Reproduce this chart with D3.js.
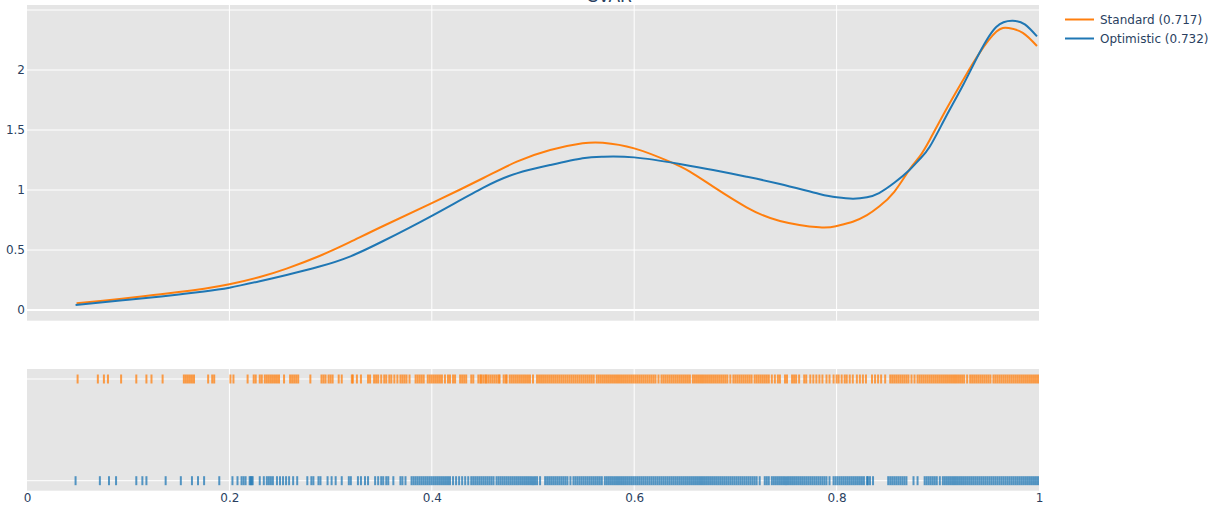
<!DOCTYPE html>
<html>
<head>
<meta charset="utf-8">
<script src="https://cdn.jsdelivr.net/npm/d3@7"></script>
<style>
  html, body { margin: 0; padding: 0; background: #fff; }
  svg { display: block; font-family: "DejaVu Sans", Verdana, sans-serif; }
</style>
</head>
<body>
<div id="chart"></div>
<script>
// ---------- DATA ----------
const titleText = "CVAR";
const seriesNames = ["Standard (0.717)", "Optimistic (0.732)"];
const seriesColors = ["#ff7f0e", "#1f77b4"];

// KDE curve - Standard
const stdX = [0.049, 0.075, 0.1, 0.125, 0.15, 0.175, 0.2, 0.23, 0.2565, 0.289, 0.319, 0.352, 0.4, 0.451, 0.484, 0.517, 0.549, 0.569, 0.6, 0.635, 0.655, 0.678, 0.711, 0.744, 0.783, 0.8, 0.816, 0.83, 0.842, 0.857, 0.872, 0.882, 0.892, 0.908, 0.925, 0.941, 0.958, 0.97, 0.984, 0.998];
const stdY = [0.056, 0.078, 0.10, 0.125, 0.15, 0.178, 0.214, 0.275, 0.345, 0.450, 0.565, 0.700, 0.890, 1.100, 1.236, 1.333, 1.389, 1.394, 1.347, 1.236, 1.153, 1.028, 0.856, 0.742, 0.689, 0.700, 0.736, 0.790, 0.862, 0.985, 1.17, 1.278, 1.417, 1.667, 1.917, 2.139, 2.32, 2.35, 2.31, 2.2];

// KDE curve - Optimistic
const optX = [0.048, 0.075, 0.1, 0.125, 0.15, 0.175, 0.2, 0.23, 0.2565, 0.289, 0.319, 0.352, 0.4, 0.451, 0.484, 0.517, 0.549, 0.569, 0.6, 0.645, 0.678, 0.711, 0.744, 0.783, 0.8, 0.816, 0.83, 0.842, 0.857, 0.872, 0.882, 0.892, 0.908, 0.925, 0.941, 0.958, 0.974, 0.986, 0.998];
const optY = [0.042, 0.065, 0.085, 0.106, 0.13, 0.155, 0.186, 0.240, 0.292, 0.362, 0.445, 0.575, 0.785, 1.020, 1.139, 1.208, 1.264, 1.278, 1.272, 1.217, 1.167, 1.111, 1.05, 0.967, 0.939, 0.928, 0.940, 0.975, 1.06, 1.167, 1.256, 1.36, 1.61, 1.875, 2.139, 2.36, 2.41, 2.38, 2.28];

// Rug values - Standard
const stdRug = [0.050, 0.070, 0.076, 0.080, 0.093, 0.108, 0.118, 0.123, 0.134, 0.155, 0.157, 0.159, 0.161, 0.163, 0.165, 0.179, 0.183, 0.185, 0.201, 0.204, 0.218, 0.224, 0.226, 0.230, 0.232, 0.235, 0.237, 0.239, 0.241, 0.243, 0.245, 0.247, 0.249, 0.254, 0.260, 0.262, 0.264, 0.266, 0.268,
0.280, 0.291, 0.293, 0.295, 0.298, 0.300, 0.302, 0.308, 0.311, 0.321, 0.322, 0.326, 0.330, 0.337, 0.339, 0.343, 0.345, 0.347, 0.350, 0.353, 0.355, 0.358, 0.360, 0.363, 0.366, 0.369, 0.371, 0.373, 0.375, 0.378, 0.384, 0.386, 0.388, 0.390, 0.392, 0.396, 0.398, 0.400, 0.402, 0.404, 0.406, 0.408, 0.410, 0.413, 0.416, 0.418, 0.421, 0.423, 0.428, 0.430, 0.432, 0.434, 0.439, 0.441, 0.446, 0.448, 0.449, 0.451, 0.453, 0.454, 0.456, 0.458, 0.460, 0.462, 0.464, 0.466, 0.467, 0.471, 0.473, 0.474, 0.477, 0.479, 0.481, 0.483, 0.485, 0.487, 0.489, 0.491, 0.493, 0.495, 0.497, 0.500,
0.504, 0.506, 0.508, 0.510, 0.512, 0.514, 0.516, 0.518, 0.520, 0.522, 0.524, 0.526, 0.528, 0.530, 0.532, 0.534, 0.536, 0.538, 0.540, 0.542, 0.544, 0.546, 0.548, 0.550, 0.552, 0.554, 0.556, 0.558, 0.560,
0.563, 0.565, 0.567, 0.569, 0.571, 0.573, 0.575, 0.577, 0.579, 0.581, 0.583, 0.585, 0.587, 0.589, 0.591, 0.593, 0.595, 0.597, 0.599, 0.601, 0.603, 0.605, 0.607, 0.609, 0.611, 0.613, 0.615, 0.617, 0.619, 0.621, 0.624,
0.627, 0.629, 0.631, 0.633, 0.635, 0.637, 0.639, 0.641, 0.643, 0.645, 0.647, 0.649, 0.651, 0.653, 0.655,
0.658, 0.660, 0.662, 0.664, 0.666, 0.668, 0.670, 0.672, 0.674, 0.676, 0.678, 0.680, 0.682, 0.684, 0.686, 0.688, 0.690, 0.692, 0.695,
0.698, 0.700, 0.702, 0.704, 0.706, 0.708, 0.710, 0.712, 0.714, 0.716, 0.719, 0.721, 0.723, 0.725, 0.727, 0.729, 0.731, 0.733,
0.736, 0.739, 0.742, 0.744, 0.749, 0.751, 0.756, 0.758, 0.760, 0.763, 0.768, 0.770, 0.774, 0.777, 0.780, 0.783, 0.786, 0.790, 0.793, 0.797, 0.800, 0.802, 0.805, 0.808, 0.810, 0.813, 0.816, 0.820, 0.823, 0.826, 0.829, 0.835, 0.838, 0.841, 0.844, 0.848,
0.853, 0.855, 0.857, 0.859, 0.861, 0.863, 0.865, 0.867, 0.869, 0.871, 0.874, 0.877, 0.880, 0.882,
0.884, 0.886, 0.888, 0.890, 0.892, 0.894, 0.896, 0.898, 0.900, 0.902, 0.904, 0.906, 0.908, 0.910, 0.912, 0.914, 0.916, 0.918, 0.920, 0.922, 0.924, 0.926, 0.929,
0.932, 0.934, 0.936, 0.938, 0.940, 0.942, 0.944, 0.946, 0.948, 0.950, 0.952,
0.955, 0.957, 0.959, 0.961, 0.963, 0.965, 0.967, 0.969, 0.971, 0.973, 0.975, 0.977, 0.979, 0.981, 0.983, 0.985, 0.987, 0.989, 0.991, 0.993, 0.995, 0.997, 0.999];

// Rug values - Optimistic
const optRug = [0.048, 0.072, 0.081, 0.088, 0.108, 0.114, 0.118, 0.137, 0.152, 0.163, 0.169, 0.175, 0.190, 0.203, 0.208, 0.212, 0.214, 0.216, 0.220, 0.221, 0.222, 0.223, 0.230, 0.234, 0.237, 0.239, 0.241, 0.243, 0.247, 0.250, 0.253, 0.256, 0.259, 0.263, 0.267,
0.277, 0.281, 0.283, 0.288, 0.290, 0.297, 0.301, 0.305, 0.311, 0.318, 0.320, 0.327, 0.330, 0.334, 0.337, 0.344, 0.347, 0.350, 0.352, 0.355, 0.357, 0.362, 0.369, 0.371, 0.374,
0.380, 0.382, 0.384, 0.386, 0.388, 0.390, 0.392, 0.394, 0.396, 0.398, 0.400, 0.402, 0.404, 0.406, 0.408, 0.410, 0.412, 0.414, 0.416, 0.418,
0.421, 0.424, 0.427, 0.430, 0.433, 0.436, 0.439, 0.441,
0.443, 0.445, 0.447, 0.449, 0.451, 0.453, 0.455, 0.457, 0.459, 0.461, 0.464,
0.466, 0.468, 0.470, 0.472, 0.474, 0.476, 0.478, 0.480, 0.482, 0.484, 0.486, 0.488, 0.490, 0.492, 0.494, 0.496, 0.498, 0.500, 0.502, 0.504, 0.507,
0.512, 0.514, 0.516, 0.518, 0.520, 0.522, 0.524, 0.526, 0.528, 0.530, 0.532, 0.534, 0.537,
0.540, 0.542, 0.544, 0.546, 0.548, 0.550, 0.552, 0.554, 0.556, 0.558, 0.560, 0.562, 0.564, 0.566, 0.568,
0.571, 0.573, 0.575, 0.577, 0.579, 0.581, 0.583, 0.585, 0.587, 0.589, 0.591, 0.593, 0.595, 0.597, 0.599, 0.601, 0.603, 0.605, 0.607, 0.609, 0.611, 0.613, 0.615, 0.617, 0.619, 0.621, 0.623, 0.625, 0.627, 0.629, 0.631, 0.633, 0.635, 0.637, 0.639, 0.641, 0.643, 0.645, 0.647, 0.649, 0.651, 0.653, 0.655, 0.657, 0.659, 0.661, 0.663, 0.665,
0.667, 0.669, 0.671, 0.673, 0.675, 0.677, 0.679, 0.681, 0.683, 0.685, 0.687, 0.689, 0.691, 0.693, 0.695, 0.697, 0.699, 0.701, 0.703, 0.705, 0.707, 0.709, 0.711, 0.713, 0.715, 0.717, 0.719, 0.721, 0.724,
0.729, 0.731, 0.733, 0.736, 0.738, 0.740, 0.742, 0.744, 0.746, 0.748, 0.750, 0.752, 0.754, 0.756, 0.758, 0.760, 0.762, 0.764, 0.766, 0.768, 0.770, 0.772, 0.774, 0.776, 0.778, 0.780, 0.782, 0.784, 0.786, 0.788, 0.790, 0.793,
0.797, 0.799, 0.801, 0.803, 0.805, 0.807, 0.809, 0.811, 0.813, 0.815, 0.817, 0.819, 0.821, 0.823, 0.825, 0.827, 0.830, 0.831, 0.833, 0.836,
0.851, 0.853, 0.855, 0.857, 0.859, 0.861, 0.863, 0.865, 0.867, 0.869, 0.876, 0.880,
0.887, 0.889, 0.891, 0.893, 0.895, 0.897, 0.899, 0.902,
0.905, 0.907, 0.909, 0.911, 0.913, 0.915, 0.917, 0.919, 0.921, 0.923, 0.925, 0.927, 0.929, 0.931, 0.933, 0.935, 0.937, 0.939, 0.941, 0.943, 0.945, 0.947, 0.949, 0.951, 0.953, 0.955, 0.957, 0.959, 0.961, 0.963, 0.965, 0.967, 0.969, 0.971, 0.973, 0.975, 0.977, 0.979, 0.981, 0.983, 0.985, 0.987, 0.989, 0.991, 0.993, 0.995, 0.997, 0.999];

const yTicks = [0, 0.5, 1, 1.5, 2];
const yGridExtra = [2.5];
const xTicks = [0, 0.2, 0.4, 0.6, 0.8, 1];
const xTickLabels = ["0", "0.2", "0.4", "0.6", "0.8", "1"];

// ---------- LAYOUT ----------
const W = 1221, H = 512;
const plotL = 27, plotR = 1039;
const topT = 5, topB = 320.7;
const botT = 369, botB = 490.7;
const bg = "#e5e5e5";
const textColor = "#2a3f5f";
const fontFam = '"DejaVu Sans", Verdana, sans-serif';

const svg = d3.select("#chart").append("svg").attr("width", W).attr("height", H);

const x = d3.scaleLinear().domain([0, 1]).range([plotL, plotR]);
const y = d3.scaleLinear().domain([-0.089, 2.5417]).range([topB, topT]);
const yRug = d3.scalePoint().domain(["Optimistic", "Standard"]).range([botB - 10, botT + 10]);

// backgrounds
svg.append("rect").attr("x", plotL).attr("y", topT).attr("width", plotR - plotL).attr("height", topB - topT).attr("fill", bg);
svg.append("rect").attr("x", plotL).attr("y", botT).attr("width", plotR - plotL).attr("height", botB - botT).attr("fill", bg);

// grid - top panel
const gTop = svg.append("g");
gTop.selectAll("line.vx").data(xTicks.slice(1, -1)).join("line")
  .attr("x1", d => x(d)).attr("x2", d => x(d)).attr("y1", topT).attr("y2", topB)
  .attr("stroke", "#fff").attr("stroke-width", 1);
gTop.selectAll("line.hy").data(yTicks.concat(yGridExtra)).join("line")
  .attr("x1", plotL).attr("x2", plotR).attr("y1", d => y(d)).attr("y2", d => y(d))
  .attr("stroke", "#fff").attr("stroke-width", d => d === 0 ? 2 : 1);

// y tick labels
const yAxis = d3.axisLeft(y).tickValues(yTicks).tickSize(0).tickPadding(2).tickFormat(d3.format("~g"));
const yA = svg.append("g").attr("transform", `translate(${plotL},0)`).call(yAxis);
yA.select(".domain").remove();
yA.selectAll("text").attr("fill", textColor).style("font-size", "12px").style("font-family", fontFam);

// grid - bottom panel
const gBot = svg.append("g");
gBot.selectAll("line").data(xTicks.slice(1, -1)).join("line")
  .attr("x1", d => x(d)).attr("x2", d => x(d)).attr("y1", botT).attr("y2", botB)
  .attr("stroke", "#fff").attr("stroke-width", 1);
gBot.selectAll("line.h").data(yRug.domain()).join("line").attr("class", "h")
  .attr("x1", plotL).attr("x2", plotR).attr("y1", d => yRug(d)).attr("y2", d => yRug(d))
  .attr("stroke", "#fff").attr("stroke-width", 1);

// x axis labels (bottom)
const xAxis = d3.axisBottom(x).tickValues(xTicks).tickSize(0).tickPadding(3).tickFormat((d, i) => xTickLabels[i]);
const xA = svg.append("g").attr("transform", `translate(0,${botB})`).call(xAxis);
xA.select(".domain").remove();
xA.selectAll("text").attr("fill", textColor).style("font-size", "12px").style("font-family", fontFam);

// KDE lines
svg.append("defs").append("clipPath").attr("id", "clipTop")
  .append("rect").attr("x", plotL).attr("y", topT).attr("width", plotR - plotL).attr("height", topB - topT);
const line = d3.line().x(d => x(d[0])).y(d => y(d[1])).curve(d3.curveNatural);
const curves = [
  { xs: stdX, ys: stdY, color: seriesColors[0] },
  { xs: optX, ys: optY, color: seriesColors[1] }
];
const gLines = svg.append("g").attr("clip-path", "url(#clipTop)");
curves.forEach(c => {
  gLines.append("path").datum(c.xs.map((v, i) => [v, c.ys[i]]))
    .attr("d", line).attr("fill", "none").attr("stroke", c.color).attr("stroke-width", 2)
    .attr("stroke-linejoin", "round");
});

// Rugs
const rugs = [
  { vals: stdRug, cat: "Standard", color: seriesColors[0] },
  { vals: optRug, cat: "Optimistic", color: seriesColors[1] }
];
rugs.forEach(r => {
  svg.append("g").selectAll("line").data(r.vals).join("line")
    .attr("x1", d => x(d)).attr("x2", d => x(d))
    .attr("y1", yRug(r.cat) - 4.5).attr("y2", yRug(r.cat) + 4.5)
    .attr("stroke", r.color).attr("stroke-width", 2).attr("stroke-opacity", 0.75);
});

// Title (mostly cut off at the top edge, as in the reference)
svg.append("text").attr("x", 609).attr("y", 2).attr("text-anchor", "middle")
  .attr("fill", textColor).style("font-size", "17px").style("font-family", fontFam).text(titleText);

// Legend
const leg = svg.append("g").attr("transform", "translate(1065,0)");
seriesNames.forEach((name, i) => {
  const yy = 19.5 + i * 19;
  leg.append("line").attr("x1", 0).attr("x2", 29).attr("y1", yy).attr("y2", yy)
    .attr("stroke", seriesColors[i]).attr("stroke-width", 2);
  leg.append("text").attr("x", 35).attr("y", yy).attr("dy", "0.35em")
    .attr("fill", textColor).style("font-size", "12px").style("font-family", fontFam).text(name);
});
</script>
</body>
</html>
